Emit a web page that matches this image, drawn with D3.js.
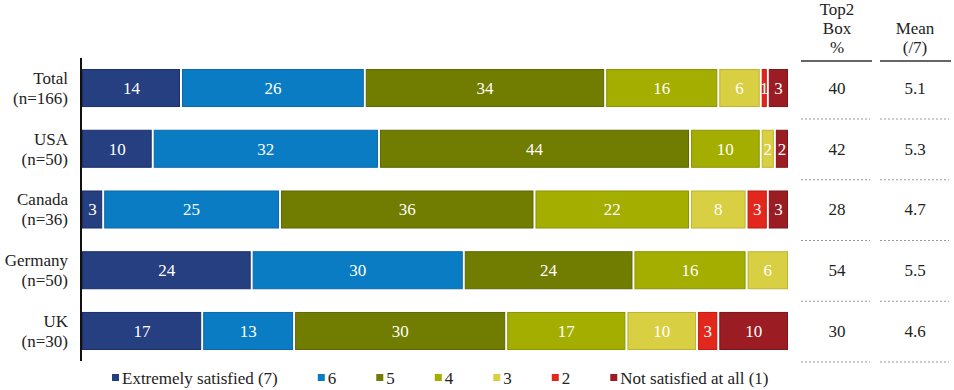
<!DOCTYPE html>
<html>
<head>
<meta charset="utf-8">
<script src="https://cdn.jsdelivr.net/npm/d3@7"></script>
<style>
  body { margin: 0; background: #fff; }
  svg text { font-family: "Liberation Serif", "Times New Roman", "DejaVu Serif", serif; }
</style>
</head>
<body>
<svg id="chart" width="954" height="390"></svg>
<script>
// Data
const groups = ["Total", "USA", "Canada", "Germany", "UK"];
const sampleSizes = ["n=166", "n=50", "n=36", "n=50", "n=30"];
const levels = ["Extremely satisfied (7)", "6", "5", "4", "3", "2", "Not satisfied at all (1)"];
const levelColors = ["#253f80", "#0a7cc4", "#717d00", "#a3ae00", "#d8cf43", "#e2271c", "#9c1c24"];
const levelStrokes = ["#1a2f66", "#0a68a8", "#5d6700", "#8b9400", "#bdb431", "#c01b12", "#7f141b"];
// percentages per group, in level order (7 .. 1)
const totalVals = [14, 26, 34, 16, 6, 1, 3];
const usaVals = [10, 32, 44, 10, 2, 0, 2];
const canadaVals = [3, 25, 36, 22, 8, 3, 3];
const germanyVals = [24, 30, 24, 16, 6, 0, 0];
const ukVals = [17, 13, 30, 17, 10, 3, 10];
const values = [totalVals, usaVals, canadaVals, germanyVals, ukVals];
const top2Box = [40, 42, 28, 54, 30];
const means = ["5.1", "5.3", "4.7", "5.5", "4.6"];

const svg = d3.select("#chart");
const fontSize = 17;

const x = d3.scaleLinear().domain([0, 100]).range([82, 789]);
const y = d3.scaleBand().domain(groups).range([59, 360]).paddingInner(0.374).paddingOuter(0.165);

// Stacked segments
groups.forEach((g, gi) => {
  let acc = 0;
  const row = svg.append("g");
  values[gi].forEach((v, li) => {
    const x0 = acc;
    acc += v;
    if (v === 0) return;
    const left = x(x0) + (x0 === 0 ? 0.5 : 1.5);
    const right = x(acc) - 1.5;
    row.append("rect")
      .attr("x", left)
      .attr("y", y(g) + 0.5)
      .attr("width", Math.max(1, right - left))
      .attr("height", y.bandwidth() - 1)
      .attr("fill", levelColors[li])
      .attr("stroke", levelStrokes[li])
      .attr("stroke-width", 1);
    row.append("text")
      .attr("x", (x(x0) + x(acc)) / 2)
      .attr("y", y(g) + y.bandwidth() / 2)
      .attr("dy", "0.35em")
      .attr("text-anchor", "middle")
      .attr("fill", "#fff")
      .attr("font-size", fontSize)
      .text(v);
  });
});

// Vertical axis line
svg.append("line")
  .attr("x1", 81).attr("x2", 81)
  .attr("y1", 58).attr("y2", 361)
  .attr("stroke", "#111")
  .attr("stroke-width", 2);

// Category labels
groups.forEach((g, gi) => {
  const cy = y(g) + y.bandwidth() / 2;
  const t = svg.append("text")
    .attr("text-anchor", "end")
    .attr("font-size", fontSize)
    .attr("fill", "#222");
  t.append("tspan").attr("x", 68).attr("y", cy - 10).attr("dy", "0.35em").text(g);
  t.append("tspan").attr("x", 68).attr("y", cy + 10).attr("dy", "0.35em").text(`(${sampleSizes[gi]})`);
});

// Right-hand table
const cols = [
  { head: ["Top2", "Box", "%"], x: 837, x1: 801, x2: 872, vals: top2Box },
  { head: ["Mean", "(/7)"], x: 915, x1: 880, x2: 951, vals: means },
];
const headY = [47, 28, 9];
cols.forEach((c) => {
  c.head.slice().reverse().forEach((h, i) => {
    svg.append("text")
      .attr("x", c.x)
      .attr("y", headY[i])
      .attr("dy", "0.35em")
      .attr("text-anchor", "middle")
      .attr("font-size", fontSize)
      .attr("fill", "#222")
      .text(h);
  });
  svg.append("line")
    .attr("x1", c.x1).attr("x2", c.x2)
    .attr("y1", 61).attr("y2", 61)
    .attr("stroke", "#333")
    .attr("stroke-width", 1.5);
  groups.forEach((g, gi) => {
    const cy = y(g) + y.bandwidth() / 2;
    svg.append("text")
      .attr("x", c.x)
      .attr("y", cy)
      .attr("dy", "0.35em")
      .attr("text-anchor", "middle")
      .attr("font-size", fontSize)
      .attr("fill", "#222")
      .text(c.vals[gi]);
    svg.append("line")
      .attr("x1", c.x1).attr("x2", c.x2 - 2)
      .attr("y1", cy + 31).attr("y2", cy + 31)
      .attr("stroke", "#999")
      .attr("stroke-width", 1)
      .attr("stroke-dasharray", "2,2");
  });
});

// Legend
const legend = svg.append("g").attr("transform", "translate(112, 378)");
let lx = 0;
levels.forEach((lvl, i) => {
  const g = legend.append("g").attr("transform", `translate(${lx}, 0)`);
  g.append("rect").attr("x", 0).attr("y", -4).attr("width", 7).attr("height", 7).attr("fill", levelColors[i]);
  const t = g.append("text")
    .attr("x", 10)
    .attr("y", 0)
    .attr("dy", "0.35em")
    .attr("font-size", fontSize)
    .attr("fill", "#222")
    .text(lvl);
  lx += 10 + t.node().getComputedTextLength() + 40;
});
</script>
</body>
</html>
